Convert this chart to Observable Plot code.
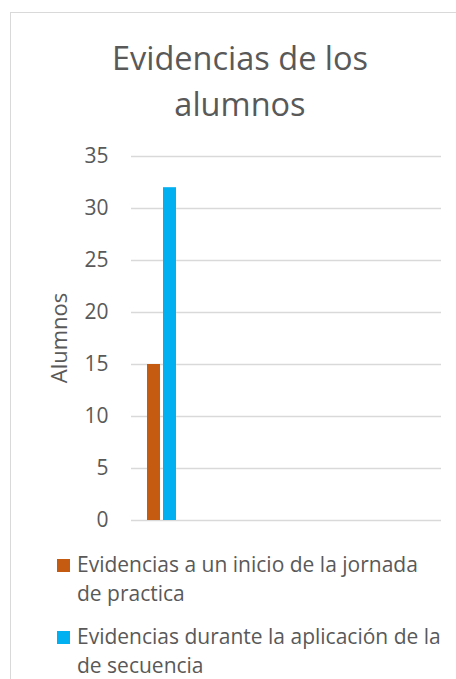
<!DOCTYPE html>
<html>
<head>
<meta charset="utf-8">
<script src="https://cdn.jsdelivr.net/npm/d3@7"></script>
<script src="https://cdn.jsdelivr.net/npm/@observablehq/plot@0.6"></script>
<style>
  html, body { margin: 0; padding: 0; background: #fff; }
  body { width: 456px; height: 679px; overflow: hidden; position: relative; font-family: "Open Sans", sans-serif; color: #595959; }
  #frame { position: absolute; left: 10px; top: 12px; width: 500px; height: 720px; border: 1px solid #d9d9d9; box-sizing: border-box; }
  #title { position: absolute; left: 10px; width: 460px; top: 35px; text-align: center; font-size: 32.5px; line-height: 46px; color: #595959; white-space: nowrap; }
  #chart { position: absolute; left: 0; top: 0; }
  #ylabel { position: absolute; left: 58px; top: 338px; transform: translate(-50%, -50%) rotate(-90deg); font-size: 22px; line-height: 24px; white-space: nowrap; }
  #legend { position: absolute; left: 56.5px; top: 549.7px; font-size: 21px; line-height: 29px; }
  .item { position: relative; padding-left: 20.5px; margin-bottom: 14px; white-space: nowrap; }
  .sw { position: absolute; left: 0; top: 9.3px; width: 13.5px; height: 13.5px; }
</style>
</head>
<body>
<div id="frame"></div>
<div id="title">Evidencias de los<br>alumnos</div>
<div id="chart"></div>
<div id="ylabel">Alumnos</div>
<div id="legend"></div>
<script>
// Categories along x (unlabeled in the original chart); only the first has data
const categories = ["c1", "c2", "c3", "c4", "c5"];
const seriesNames = [
  "Evidencias a un inicio de la jornada de practica",
  "Evidencias durante la aplicación de la de secuencia"
];
const legendLines = [
  ["Evidencias a un inicio de la jornada", "de practica"],
  ["Evidencias durante la aplicación de la", "de secuencia"]
];
const seriesColors = ["#C55A11", "#00B0F0"];
const inicioValues = [15, null, null, null, null];
const duranteValues = [32, null, null, null, null];
const yTicks = [0, 5, 10, 15, 20, 25, 30, 35];

const data = [];
categories.forEach((c, i) => {
  data.push({cat: c, serie: seriesNames[0], value: inicioValues[i]});
  data.push({cat: c, serie: seriesNames[1], value: duranteValues[i]});
});

const plot = Plot.plot({
  width: 456,
  height: 540,
  marginLeft: 130,
  marginRight: 15,
  marginTop: 156,
  marginBottom: 20,
  style: {fontFamily: "Open Sans, sans-serif", fontSize: "21px", color: "#595959", background: "transparent"},
  fx: {domain: categories, padding: 0, axis: null},
  x: {domain: seriesNames, paddingInner: 3 / 17, paddingOuter: 0.92, axis: null},
  y: {domain: [0, 35], axis: null},
  color: {domain: seriesNames, range: seriesColors},
  marks: [
    Plot.gridY(yTicks, {stroke: "#d9d9d9", strokeOpacity: 1, strokeWidth: 1.3}),
    Plot.axisY(yTicks, {tickSize: 0, tickPadding: 23, fontSize: 21, label: null, anchor: "left"}),
    Plot.barY(data, {fx: "cat", x: "serie", y: "value", fill: "serie"})
  ]
});
document.getElementById("chart").appendChild(plot);

const legend = document.getElementById("legend");
seriesNames.forEach((s, i) => {
  const item = document.createElement("div");
  item.className = "item";
  const sw = document.createElement("div");
  sw.className = "sw";
  sw.style.background = seriesColors[i];
  item.appendChild(sw);
  legendLines[i].forEach((line, j) => {
    if (j > 0) item.appendChild(document.createElement("br"));
    item.appendChild(document.createTextNode(line));
  });
  legend.appendChild(item);
});
</script>
</body>
</html>
